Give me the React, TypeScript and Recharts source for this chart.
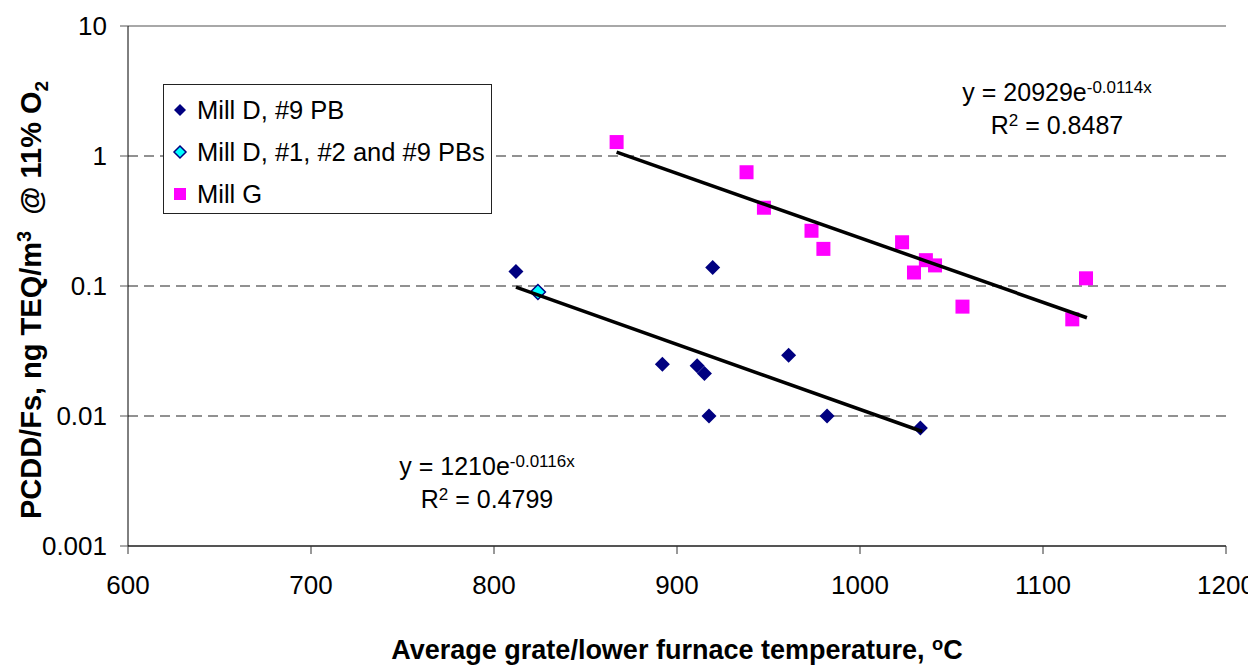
import React from 'react';
import {ReferenceLine, Scatter, ScatterChart, XAxis, YAxis} from 'recharts';

const FONT = '"Liberation Sans", Arial, sans-serif';

const xTicks = [600, 700, 800, 900, 1000, 1100, 1200];
const yTicks = [0.001, 0.01, 0.1, 1, 10];
const gridValues = [1, 0.1, 0.01];

const millD9 = [
    {x: 812, y: 0.129},
    {x: 919.5, y: 0.139},
    {x: 892, y: 0.025},
    {x: 911, y: 0.0243},
    {x: 915, y: 0.0212},
    {x: 961, y: 0.0293},
    {x: 917.5, y: 0.01},
    {x: 982, y: 0.01},
    {x: 1033, y: 0.0081},
];

const millDAll = [
    {x: 824, y: 0.09},
];

const millG = [
    {x: 867, y: 1.28},
    {x: 938, y: 0.75},
    {x: 947.5, y: 0.4},
    {x: 973.5, y: 0.266},
    {x: 980, y: 0.193},
    {x: 1023, y: 0.217},
    {x: 1036, y: 0.158},
    {x: 1041, y: 0.144},
    {x: 1029.5, y: 0.127},
    {x: 1056, y: 0.0694},
    {x: 1116, y: 0.0554},
    {x: 1123.5, y: 0.1146},
];

// trendline end points
const trendD = [
    {x: 812, y: 0.098},
    {x: 1034, y: 0.0076},
];

const trendG = [
    {x: 867, y: 1.07},
    {x: 1124, y: 0.057},
];

const Diamond = ({cx, cy, fill, stroke, r = 7.5}: any) => (
    <polygon
        points={`${cx},${cy - r} ${cx + r},${cy} ${cx},${cy + r} ${cx - r},${cy}`}
        fill={fill}
        stroke={stroke}
        strokeWidth={stroke ? 1.5 : 0}
    />
);

const Square = ({cx, cy, fill, s = 14}: any) => (
    <rect x={cx - s / 2} y={cy - s / 2} width={s} height={s} fill={fill}/>
);

const Sup = ({children}: {children: React.ReactNode}) => (
    <sup style={{fontSize: '0.68em', verticalAlign: '0.5em', lineHeight: 0}}>{children}</sup>
);
const Sub = ({children}: {children: React.ReactNode}) => (
    <sub style={{fontSize: '0.65em', verticalAlign: 'sub', lineHeight: 0}}>{children}</sub>
);

const legendItems = [
    {label: 'Mill D, #9 PB', marker: <Diamond cx={8} cy={8} r={6} fill="#000080"/>},
    {label: 'Mill D, #1, #2 and #9 PBs', marker: <Diamond cx={8} cy={8} r={6} fill="#00FFFF" stroke="#000080"/>},
    {label: 'Mill G', marker: <Square cx={8} cy={8} s={12} fill="#FF00FF"/>},
];

const LegendBox = () => (
    <div style={{
        position: 'absolute', left: 155, top: 76, width: 327, height: 128,
        border: '1px solid #222', background: '#fff', fontFamily: FONT, fontSize: 25.5,
    }}>
        {legendItems.map((it, i) => (
            <div key={i} style={{position: 'absolute', left: 8, top: 8 + i * 42, height: 34, display: 'flex', alignItems: 'center'}}>
                <svg width={17} height={16} style={{marginRight: 8}}>{it.marker}</svg>
                <span>{it.label}</span>
            </div>
        ))}
    </div>
);

const textBlock: React.CSSProperties = {
    position: 'absolute', fontFamily: FONT, fontSize: 25, lineHeight: '33px',
    textAlign: 'center', transform: 'translateX(-50%)', whiteSpace: 'nowrap', color: '#000',
};

export default function App() {
    return (
        <div style={{position: 'relative', width: 1248, height: 661}}>
            <ScatterChart
                width={1248}
                height={661}
                margin={{top: 18, right: 30, left: 40, bottom: 63}}
            >
                <XAxis
                    type="number"
                    dataKey="x"
                    domain={[600, 1200]}
                    ticks={xTicks}
                    tickSize={8}
                    tickMargin={22}
                    height={60}
                    axisLine={{stroke: '#555', strokeWidth: 2}}
                    tickLine={{stroke: '#333'}}
                    tick={{fill: '#000', fontSize: 26, fontFamily: FONT}}
                />
                <YAxis
                    type="number"
                    dataKey="y"
                    scale="log"
                    domain={[0.001, 10]}
                    ticks={yTicks}
                    allowDataOverflow
                    tickFormatter={(v: number) => String(v)}
                    tickSize={8}
                    tickMargin={13}
                    width={80}
                    axisLine={{stroke: '#000'}}
                    tickLine={{stroke: '#555'}}
                    tick={{fill: '#000', fontSize: 26, fontFamily: FONT}}
                />
                <ReferenceLine y={10} stroke="#a8a8a8" strokeWidth={2}/>
                {gridValues.map(v => (
                    <ReferenceLine key={v} y={v} stroke="#6e6e6e" strokeWidth={1.5} strokeDasharray="10 6"/>
                ))}
                <Scatter data={millD9} fill="#000080" isAnimationActive={false}
                         shape={(p: any) => <Diamond cx={p.cx} cy={p.cy} fill="#000080"/>}/>
                <Scatter data={millDAll} fill="#00FFFF" isAnimationActive={false}
                         shape={(p: any) => <Diamond cx={p.cx} cy={p.cy} fill="#00FFFF" stroke="#000080"/>}/>
                <Scatter data={millG} fill="#FF00FF" isAnimationActive={false}
                         shape={(p: any) => <Square cx={p.cx} cy={p.cy} fill="#FF00FF"/>}/>
                <Scatter data={trendD} isAnimationActive={false} legendType="none"
                         line={{stroke: '#000', strokeWidth: 3.5}} shape={() => <g/>}/>
                <Scatter data={trendG} isAnimationActive={false} legendType="none"
                         line={{stroke: '#000', strokeWidth: 3.5}} shape={() => <g/>}/>
            </ScatterChart>

            <LegendBox/>

            <div style={{...textBlock, left: 1049, top: 68}}>
                <div>y = 20929e<Sup>-0.0114x</Sup></div>
                <div>R<Sup>2</Sup> = 0.8487</div>
            </div>
            <div style={{...textBlock, left: 479, top: 442}}>
                <div>y = 1210e<Sup>-0.0116x</Sup></div>
                <div>R<Sup>2</Sup> = 0.4799</div>
            </div>

            <div style={{
                position: 'absolute', left: 669, top: 626, transform: 'translateX(-50%)',
                fontFamily: FONT, fontSize: 27, fontWeight: 'bold', whiteSpace: 'nowrap', lineHeight: '32px',
            }}>
                Average grate/lower furnace temperature, <Sup>o</Sup>C
            </div>
            <div style={{
                position: 'absolute', left: 23, top: 292, transform: 'translate(-50%, -50%) rotate(-90deg)',
                fontFamily: FONT, fontSize: 29, fontWeight: 'bold', whiteSpace: 'nowrap', lineHeight: '32px',
            }}>
                PCDD/Fs, ng TEQ/m<Sup>3</Sup>{'\u00a0 '}@ 11% O<Sub>2</Sub>
            </div>
        </div>
    );
}
